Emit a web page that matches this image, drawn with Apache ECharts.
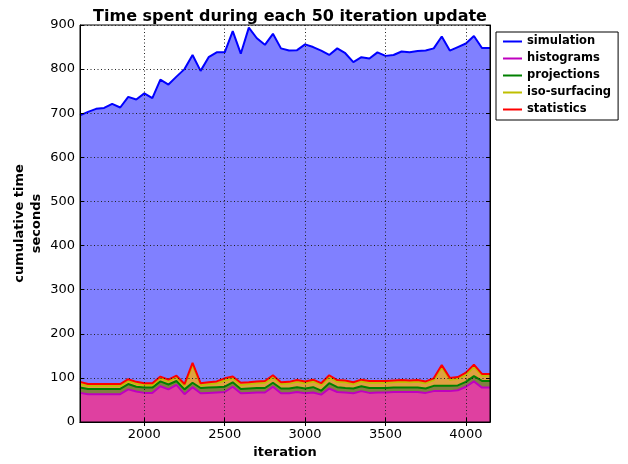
<!DOCTYPE html>
<html>
<head>
<meta charset="utf-8">
<script src="https://cdn.jsdelivr.net/npm/echarts@6/dist/echarts.min.js"></script>
<style>html,body{margin:0;padding:0;background:#fff}#c{width:628px;height:464px}</style>
</head>
<body>
<div id="c"></div>
<script>
const iterations = [1600,1650,1700,1750,1800,1850,1900,1950,2000,2050,2100,2150,2200,2250,2300,2350,2400,2450,2500,2550,2600,2650,2700,2750,2800,2850,2900,2950,3000,3050,3100,3150,3200,3250,3300,3350,3400,3450,3500,3550,3600,3650,3700,3750,3800,3850,3900,3950,4000,4050,4100,4150];
const histograms = [66,63,63,63,63,63,74,69,66,66,81,74,84,63,79,65,66,67,68,80,65,66,67,67,80,65,65,68,65,67,62,76,68,67,65,70,66,67,67,68,68,68,68,66,70,70,70,72,80,92,78,78];
const projections = [12,12,12,12,12,12,12,11,12,12,11,11,9,11,10,12,12,12,12,10,10,10,10,10,9,11,11,11,11,12,9,12,11,10,11,11,11,10,10,10,10,10,10,10,12,12,12,11,11,12,15,15];
const isoSurfacing = [8,7,7,7,7,7,7,7,6,6,7,7,8,8,40,7,8,9,14,9,9,10,11,12,12,10,11,12,12,13,13,13,12,13,10,11,12,12,12,12,13,12,13,12,13,42,14,15,16,21,12,12];
const statistics = [5,4,4,4,4,4,4,4,4,4,4,4,4,4,5,4,4,4,5,4,5,4,4,4,5,4,4,4,4,4,4,5,4,4,4,4,4,4,4,4,4,4,4,4,4,5,4,4,5,5,4,4];
const simulation = [604,617,624,626,635,627,640,640,657,646,673,669,678,714,698,708,737,746,739,783,746,804,778,762,774,757,751,748,764,754,754,726,752,742,726,731,731,745,737,738,745,744,746,750,748,745,742,748,746,745,739,739];
const xTicks = [2000,2500,3000,3500,4000];
const seriesNames = ['histograms','projections','iso-surfacing','statistics','simulation'];
const seriesValues = [histograms, projections, isoSurfacing, statistics, simulation];
const lineColors = ['#bf00bf','#008000','#bfbf00','#ff0000','#0000ff'];
const fillColors = ['#df40a0','#808040','#dfa040','#ff8080','#8080ff'];

const series = [];
seriesNames.forEach((n,k)=>{
  series.push({
    name: n + '_fill', type:'line', stack:'fill', data: seriesValues[k],
    showSymbol:false, symbol:'none', lineStyle:{width:0}, z:2,
    areaStyle:{color: fillColors[k], opacity:1}, itemStyle:{color: fillColors[k]}, silent:true
  });
});
seriesNames.forEach((n,k)=>{
  series.push({
    name: n, type:'line', stack:'lines', data: seriesValues[k],
    showSymbol:false, symbol:'none', z:4,
    lineStyle:{color: lineColors[k], width:2}, itemStyle:{color: lineColors[k]}
  });
});

const isTick = (idx) => xTicks.indexOf(iterations[idx]) >= 0;
const chart = echarts.init(document.getElementById('c'), null, {renderer:'canvas'});
const font = 'DejaVu Sans';
const gridLine = {show:true, lineStyle:{color:'#222', type:[1,2.5], width:1}};
chart.setOption({
  animation:false,
  backgroundColor:'#fff',
  textStyle:{fontFamily:font},
  title:{text:'Time spent during each 50 iteration update', left:285, textAlign:'center', top:4,
    textStyle:{fontFamily:font, fontWeight:'bold', fontSize:16, color:'#000'}},
  grid:{left:80, right:138, top:25, bottom:42, show:true, borderColor:'#000', borderWidth:1, backgroundColor:'transparent', z:6},
  legend:{
    data:['simulation','histograms','projections','iso-surfacing','statistics'],
    orient:'vertical', left:496, top:32, icon:'rect', itemWidth:19, itemHeight:2, itemGap:4,
    padding:[3,7,4,7], borderColor:'#000', borderWidth:1, backgroundColor:'#fff', borderRadius:0,
    textStyle:{fontFamily:font, fontWeight:'bold', fontSize:11.5, color:'#000', lineHeight:13},
    selectedMode:false
  },
  xAxis:[{
    type:'category', data:iterations, boundaryGap:false, position:'bottom', z:6,
    name:'iteration', nameLocation:'middle', nameGap:24, nameMoveOverlap:false,
    nameTextStyle:{fontFamily:font, fontWeight:'bold', fontSize:13, color:'#000'},
    axisLine:{show:true, lineStyle:{color:'#000', width:1}},
    axisTick:{show:true, inside:true, length:4, interval:isTick, lineStyle:{color:'#000'}},
    axisLabel:{interval:isTick, margin:6, fontFamily:font, fontSize:13, color:'#000'},
    splitLine:Object.assign({interval:isTick}, gridLine)
  },{
    type:'category', data:iterations, boundaryGap:false, position:'top', z:6,
    axisLine:{show:true, lineStyle:{color:'#000'}},
    axisTick:{show:true, inside:true, length:4, interval:isTick, lineStyle:{color:'#000'}},
    axisLabel:{show:false}, splitLine:{show:false}
  }],
  yAxis:[{
    type:'value', min:0, max:900, interval:100, z:6,
    name:'cumulative time\nseconds', nameLocation:'middle', nameGap:35, nameRotate:90, nameMoveOverlap:false,
    nameTextStyle:{fontFamily:font, fontWeight:'bold', fontSize:13, color:'#000', lineHeight:17, align:'center'},
    axisLine:{show:true, lineStyle:{color:'#000'}},
    axisTick:{show:true, inside:true, length:4, lineStyle:{color:'#000'}},
    axisLabel:{margin:5, fontFamily:font, fontSize:13, color:'#000'},
    splitLine:gridLine
  },{
    type:'value', min:0, max:900, interval:100, position:'right', z:6,
    axisLine:{show:true, lineStyle:{color:'#000'}},
    axisTick:{show:true, inside:true, length:4, lineStyle:{color:'#000'}},
    axisLabel:{show:false}, splitLine:{show:false}
  }],
  series: series
});
</script>
</body>
</html>
